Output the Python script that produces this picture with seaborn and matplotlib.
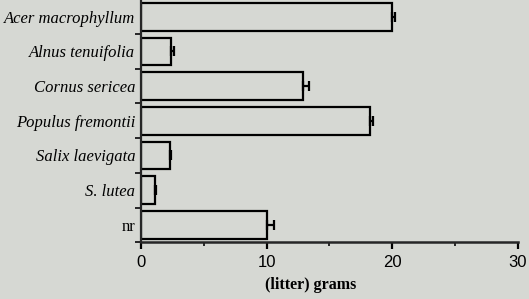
import pandas as pd
import matplotlib.pyplot as plt
import seaborn as sns
import numpy as np
from matplotlib.ticker import MultipleLocator, FixedLocator

# Values
species = ['Acer macrophyllum', 'Alnus tenuifolia', 'Cornus sericea',
           'Populus fremontii', 'Salix laevigata', 'S. lutea', 'nr']
grams = [20.0, 2.4, 12.9, 18.2, 2.3, 1.1, 10.0]
err = [0.25, 0.2, 0.5, 0.3, 0.1, 0.1, 0.6]

df = pd.DataFrame({'species': species, 'grams': grams, 'err': err})

bg = '#d6d8d3'
sns.set_style('ticks')
fig = plt.figure(figsize=(5.29, 2.99), dpi=100, facecolor=bg)
ax = fig.add_axes([0.2665, 0.19, 0.7125, 0.812])
ax.set_facecolor(bg)

sns.barplot(data=df, x='grams', y='species', orient='h', color=bg,
            edgecolor='black', linewidth=1.6, width=0.8, saturation=1,
            errorbar=None, ax=ax)

# one-sided error bars
ypos = np.arange(len(df))
ax.errorbar(df['grams'], ypos, xerr=[np.zeros(len(df)), df['err']],
            fmt='none', ecolor='black', elinewidth=1.6, capsize=3.8,
            capthick=1.6)

ax.set_xlim(0, 30)
ax.set_ylim(6.5, -0.5)
ax.xaxis.set_major_locator(MultipleLocator(10))
ax.xaxis.set_minor_locator(MultipleLocator(5))
ax.yaxis.set_minor_locator(FixedLocator(np.arange(-0.5, 7, 1)))

for s in ['top', 'right']:
    ax.spines[s].set_visible(False)
ax.spines['left'].set_linewidth(1.6)
ax.spines['bottom'].set_linewidth(1.8)

ax.tick_params(axis='x', which='major', length=5, width=1.6, pad=4,
               labelsize=12, colors='black')
ax.tick_params(axis='x', which='minor', length=3, width=1.4)
ax.tick_params(axis='y', which='major', length=0, pad=4)
ax.tick_params(axis='y', which='minor', length=4, width=1.4)

for lab in ax.get_xticklabels():
    lab.set_fontfamily('Liberation Sans')
ax.set_yticks(ypos)
ax.set_yticklabels(species)
for lab in ax.get_yticklabels():
    lab.set_fontfamily('Liberation Serif')
    lab.set_fontsize(12)
    lab.set_color('black')
    if lab.get_text() != 'nr':
        lab.set_fontstyle('italic')

ax.set_ylabel('')
ax.set_xlabel('(litter) grams', fontfamily='Liberation Serif',
              fontweight='bold', fontsize=11.5, color='black')
ax.xaxis.set_label_coords(0.451, -0.145)

plt.savefig('out.png', dpi=100, facecolor=bg)
plt.close()
